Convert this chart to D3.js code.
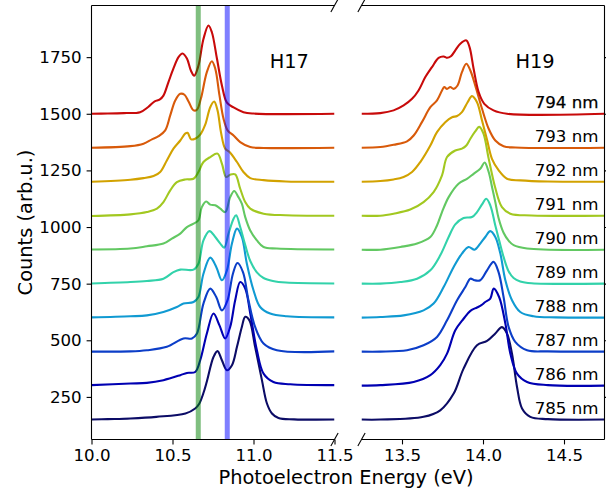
<!DOCTYPE html>
<html><head><meta charset="utf-8">
<script src="https://cdn.jsdelivr.net/npm/d3@7"></script>
<style>body{margin:0;background:#fff}svg{display:block}</style>
</head><body><svg id="chart" width="606" height="491"></svg>
<script>
const wavelengths = [785, 786, 787, 788, 789, 790, 791, 792, 793, 794];
const offsets = [150, 300, 450, 600, 750, 900, 1050, 1200, 1350, 1500];
const colors = ["#0c0c66", "#0000b2", "#0c3ec8", "#109ad2", "#32d2aa", "#62c862", "#a2c820", "#d2a200", "#d85a0a", "#c80a0a"];
const yTicks = [250, 500, 750, 1000, 1250, 1500, 1750];
const xTicksH17 = [10.0, 10.5, 11.0, 11.5];
const xTicksH19 = [13.5, 14.0, 14.5];
const bandEnergies = [10.659, 10.838];
const bandColors = ["#008000", "#0000ff"];
const harmonicLabels = ["H17", "H19"];

// H17 spectra [energy eV, counts]
const h17_785 = [[10.0,150],[10.1,152],[10.24,155],[10.40,162],[10.58,177],[10.64,199],[10.665,220],[10.69,265],[10.712,318],[10.753,426],[10.778,452],[10.805,412],[10.836,368],[10.867,390],[10.898,471],[10.928,559],[10.949,604],[10.975,588],[11.01,471],[11.052,324],[11.083,221],[11.114,177],[11.154,157],[11.25,151],[11.5,150]];
const h17_786 = [[10.0,302],[10.24,309],[10.342,312],[10.444,324],[10.548,346],[10.589,356],[10.64,360],[10.671,412],[10.712,530],[10.753,618],[10.79,566],[10.825,508],[10.856,559],[10.887,677],[10.918,757],[10.949,728],[10.98,618],[11.021,456],[11.062,353],[11.123,316],[11.227,306],[11.5,302]];
const h17_787 = [[10.0,450],[10.24,451],[10.342,456],[10.465,471],[10.568,508],[10.62,508],[10.651,530],[10.691,662],[10.733,728],[10.77,691],[10.805,632],[10.84,677],[10.873,794],[10.901,841],[10.935,801],[10.969,677],[11.01,559],[11.062,486],[11.144,456],[11.5,451]];
const h17_788 = [[10.0,601],[10.24,606],[10.342,610],[10.444,625],[10.527,647],[10.568,662],[10.63,669],[10.66,691],[10.691,794],[10.733,865],[10.77,824],[10.805,765],[10.836,809],[10.867,927],[10.898,993],[10.928,956],[10.959,838],[11.0,721],[11.041,647],[11.103,618],[11.206,606],[11.5,601]];
const h17_789 = [[10.0,751],[10.24,757],[10.342,762],[10.444,772],[10.506,801],[10.548,812],[10.63,812],[10.66,838],[10.691,941],[10.728,982],[10.764,956],[10.795,927],[10.819,909],[10.846,971],[10.877,1037],[10.893,1052],[10.918,1000],[10.949,920],[10.98,850],[11.021,800],[11.062,775],[11.12,762],[11.2,755],[11.5,751]];
const h17_790 = [[10.0,901],[10.24,905],[10.342,915],[10.444,927],[10.496,949],[10.548,971],[10.589,1000],[10.63,1015],[10.66,1030],[10.681,1088],[10.708,1113],[10.733,1099],[10.764,1096],[10.795,1081],[10.826,1066],[10.856,1132],[10.881,1159],[10.907,1132],[10.928,1103],[10.949,1044],[10.98,985],[11.021,941],[11.062,912],[11.144,905],[11.5,901]];
const h17_791 = [[10.0,1049],[10.24,1056],[10.342,1066],[10.404,1081],[10.444,1110],[10.486,1162],[10.527,1198],[10.578,1210],[10.63,1213],[10.66,1243],[10.691,1287],[10.733,1309],[10.778,1324],[10.805,1280],[10.831,1221],[10.856,1231],[10.887,1232],[10.918,1169],[10.949,1110],[10.98,1081],[11.062,1059],[11.2,1052],[11.5,1050]];
const h17_792 = [[10.0,1200],[10.24,1209],[10.321,1216],[10.383,1225],[10.424,1243],[10.465,1294],[10.506,1346],[10.548,1382],[10.578,1412],[10.593,1416],[10.615,1387],[10.64,1390],[10.671,1408],[10.702,1452],[10.733,1529],[10.757,1554],[10.778,1515],[10.799,1419],[10.825,1346],[10.852,1331],[10.898,1287],[10.938,1243],[10.98,1216],[11.062,1207],[11.2,1201],[11.5,1200]];
const h17_793 = [[10.0,1350],[10.24,1357],[10.321,1368],[10.373,1387],[10.414,1401],[10.455,1427],[10.486,1493],[10.517,1559],[10.548,1588],[10.574,1584],[10.599,1554],[10.63,1515],[10.651,1518],[10.675,1566],[10.712,1684],[10.743,1732],[10.764,1699],[10.79,1581],[10.815,1478],[10.84,1427],[10.877,1404],[10.918,1375],[10.98,1353],[11.062,1349],[11.5,1350]];
const h17_794 = [[10.0,1500],[10.1,1501],[10.2,1503],[10.3,1507],[10.35,1530],[10.39,1555],[10.42,1562],[10.444,1580],[10.475,1640],[10.506,1700],[10.537,1750],[10.562,1766],[10.589,1744],[10.614,1690],[10.634,1668],[10.66,1712],[10.691,1830],[10.722,1890],[10.743,1860],[10.774,1745],[10.805,1625],[10.836,1549],[10.877,1528],[10.938,1507],[11.0,1501],[11.5,1500]];

// H19 spectra [energy eV, counts]
const h19_785 = [[13.25,150],[13.366,150],[13.633,162],[13.736,191],[13.819,265],[13.88,375],[13.963,478],[14.025,497],[14.076,530],[14.117,558],[14.148,530],[14.179,441],[14.21,294],[14.241,199],[14.292,162],[14.4,152],[14.75,150]];
const h19_786 = [[13.25,300],[13.366,302],[13.572,316],[13.675,346],[13.736,390],[13.778,441],[13.829,544],[13.88,595],[13.922,630],[13.963,645],[13.99,655],[14.014,669],[14.045,684],[14.066,728],[14.1,690],[14.138,574],[14.169,441],[14.21,353],[14.272,316],[14.4,302],[14.75,300]];
const h19_787 = [[13.25,450],[13.366,450],[13.531,456],[13.633,478],[13.716,515],[13.778,588],[13.84,677],[13.891,735],[13.922,772],[13.948,765],[13.983,765],[14.025,809],[14.065,846],[14.096,801],[14.127,691],[14.158,559],[14.199,493],[14.272,456],[14.4,451],[14.75,450]];
const h19_788 = [[13.25,600],[13.366,603],[13.51,610],[13.633,632],[13.695,662],[13.757,735],[13.819,824],[13.87,883],[13.911,912],[13.948,900],[13.983,927],[14.014,956],[14.045,982],[14.076,956],[14.107,883],[14.138,765],[14.179,677],[14.23,625],[14.312,606],[14.45,601],[14.75,600]];
const h19_789 = [[13.25,750],[13.366,750],[13.49,757],[13.593,772],[13.675,809],[13.736,875],[13.788,956],[13.829,1012],[13.88,1040],[13.932,1044],[13.963,1066],[13.994,1100],[14.02,1125],[14.045,1096],[14.076,1007],[14.1,940],[14.127,868],[14.158,805],[14.189,775],[14.23,760],[14.3,752],[14.75,750]];
const h19_790 = [[13.25,900],[13.366,900],[13.49,912],[13.593,927],[13.675,956],[13.716,1007],[13.747,1066],[13.788,1132],[13.849,1191],[13.901,1213],[13.942,1235],[13.983,1257],[14.01,1285],[14.035,1243],[14.056,1176],[14.076,1110],[14.096,1040],[14.127,975],[14.158,940],[14.189,920],[14.272,905],[14.75,900]];
const h19_791 = [[13.25,1050],[13.366,1050],[13.448,1059],[13.551,1077],[13.633,1110],[13.695,1154],[13.747,1228],[13.778,1309],[13.829,1338],[13.87,1346],[13.897,1360],[13.922,1390],[13.952,1422],[13.977,1442],[14.003,1412],[14.035,1302],[14.076,1172],[14.117,1088],[14.169,1059],[14.3,1051],[14.75,1050]];
const h19_792 = [[13.25,1200],[13.366,1203],[13.448,1210],[13.51,1221],[13.562,1243],[13.613,1287],[13.675,1360],[13.716,1419],[13.767,1463],[13.809,1485],[13.84,1490],[13.87,1507],[13.905,1551],[13.932,1578],[13.963,1551],[13.994,1470],[14.025,1385],[14.056,1300],[14.097,1250],[14.148,1213],[14.231,1206],[14.4,1201],[14.75,1200]];
const h19_793 = [[13.25,1350],[13.366,1353],[13.448,1363],[13.531,1378],[13.572,1404],[13.623,1463],[13.675,1529],[13.716,1559],[13.747,1603],[13.761,1618],[13.778,1610],[13.798,1618],[13.819,1610],[13.843,1625],[13.87,1684],[13.897,1721],[13.922,1691],[13.952,1625],[13.994,1522],[14.035,1434],[14.076,1382],[14.127,1357],[14.2,1351],[14.75,1350]];
const h19_794 = [[13.25,1500],[13.366,1503],[13.448,1515],[13.51,1537],[13.562,1566],[13.602,1603],[13.644,1662],[13.685,1706],[13.726,1747],[13.757,1753],[13.778,1747],[13.802,1754],[13.829,1780],[13.86,1809],[13.897,1824],[13.917,1794],[13.942,1699],[13.973,1596],[14.008,1544],[14.065,1515],[14.148,1500],[14.75,1500]];

const h17Series = [h17_785, h17_786, h17_787, h17_788, h17_789, h17_790, h17_791, h17_792, h17_793, h17_794];
const h19Series = [h19_785, h19_786, h19_787, h19_788, h19_789, h19_790, h19_791, h19_792, h19_793, h19_794];

const FONT = "DejaVu Sans, sans-serif";
const svg = d3.select("#chart");
const topY = 5.5, botY = 439.5;
const xL = d3.scaleLinear().domain([10, 11.5]).range([91.5, 334.5]);
const xR = d3.scaleLinear().domain([13.25, 14.75]).range([361.5, 604.5]);
const y = d3.scaleLinear().domain([62, 1978]).range([botY, topY]);

const defs = svg.append("defs");
[["clipL", xL], ["clipR", xR]].forEach(([id, sx]) => {
  defs.append("clipPath").attr("id", id).append("rect")
    .attr("x", sx.range()[0]).attr("y", topY)
    .attr("width", sx.range()[1] - sx.range()[0]).attr("height", botY - topY);
});

function drawPanel(sx, series, clipId) {
  const g = svg.append("g").attr("clip-path", `url(#${clipId})`);
  const line = d3.line().x(d => sx(d[0])).y(d => y(d[1])).curve(d3.curveCatmullRom.alpha(0.5));
  series.forEach((s, i) => {
    g.append("path").attr("d", line(s)).attr("fill", "none")
      .attr("stroke", colors[i]).attr("stroke-width", 2.1).attr("stroke-linejoin", "round");
  });
  return g;
}
const gL = drawPanel(xL, h17Series, "clipL");
drawPanel(xR, h19Series, "clipR");

bandEnergies.forEach((e, i) => {
  gL.append("line").attr("x1", xL(e)).attr("x2", xL(e)).attr("y1", topY).attr("y2", botY)
    .attr("stroke", bandColors[i]).attr("stroke-opacity", 0.5).attr("stroke-width", 5);
});

function styleAxis(g) {
  g.select(".domain").remove();
  g.attr("font-family", FONT).attr("font-size", "16.67px");
  g.selectAll("line").attr("stroke", "#000").attr("stroke-width", 1.1);
  g.selectAll("text").attr("fill", "#000");
}
svg.append("g").attr("transform", `translate(${xL.range()[0]},0)`)
  .call(d3.axisLeft(y).tickValues(yTicks).tickSize(4.9).tickPadding(4.9).tickFormat(d3.format("d"))).call(styleAxis);
svg.append("g").attr("transform", `translate(${xR.range()[1]},0)`)
  .call(d3.axisRight(y).tickValues(yTicks).tickSize(4.9).tickFormat(() => "")).call(styleAxis);
svg.append("g").attr("transform", `translate(0,${botY})`)
  .call(d3.axisBottom(xL).tickValues(xTicksH17).tickSize(4.9).tickPadding(4.9).tickFormat(d3.format(".1f"))).call(styleAxis);
svg.append("g").attr("transform", `translate(0,${botY})`)
  .call(d3.axisBottom(xR).tickValues(xTicksH19).tickSize(4.9).tickPadding(4.9).tickFormat(d3.format(".1f"))).call(styleAxis);

// spines
const sp = svg.append("g").attr("stroke", "#000").attr("stroke-width", 1.1).attr("fill", "none");
const [l0, l1] = xL.range(), [r0, r1] = xR.range();
sp.append("line").attr("x1", l0).attr("x2", l0).attr("y1", topY).attr("y2", botY);
sp.append("line").attr("x1", l0).attr("x2", l1).attr("y1", topY).attr("y2", topY);
sp.append("line").attr("x1", l0).attr("x2", l1).attr("y1", botY).attr("y2", botY);
sp.append("line").attr("x1", r1).attr("x2", r1).attr("y1", topY).attr("y2", botY);
sp.append("line").attr("x1", r0).attr("x2", r1).attr("y1", topY).attr("y2", topY);
sp.append("line").attr("x1", r0).attr("x2", r1).attr("y1", botY).attr("y2", botY);

// break marks
const dd = 0.015, dx = dd * (l1 - l0), dy = dd * (botY - topY);
[l1, r0].forEach(xc => {
  [topY, botY].forEach(yc => {
    sp.append("line").attr("x1", xc - dx).attr("y1", yc + dy).attr("x2", xc + dx).attr("y2", yc - dy);
  });
});

// harmonic labels
svg.append("text").attr("x", xL(11.1)).attr("y", y(1700)).text(harmonicLabels[0])
  .attr("font-family", FONT).attr("font-size", "19.4px").attr("fill", "#000");
svg.append("text").attr("x", xR(14.2)).attr("y", y(1700)).text(harmonicLabels[1])
  .attr("font-family", FONT).attr("font-size", "19.4px").attr("fill", "#000");

// wavelength labels
wavelengths.forEach((w, i) => {
  const t = svg.append("text").attr("x", 598.5).attr("y", y(offsets[i]) - 6)
    .attr("text-anchor", "end").attr("font-family", FONT).attr("font-size", "16.67px")
    .attr("fill", "#000").text(`${w} nm`);
  if (i === wavelengths.length - 1) t.attr("stroke", "#000").attr("stroke-width", 0.25);
});

// axis titles
svg.append("text").attr("x", 346).attr("y", 484).attr("text-anchor", "middle")
  .attr("font-family", FONT).attr("font-size", "19.4px").attr("fill", "#000").text("Photoelectron Energy (eV)");
svg.append("text").attr("transform", `translate(31.5,${(topY + botY) / 2}) rotate(-90)`).attr("text-anchor", "middle")
  .attr("font-family", FONT).attr("font-size", "19.4px").attr("fill", "#000").text("Counts (arb.u.)");
</script></body></html>
